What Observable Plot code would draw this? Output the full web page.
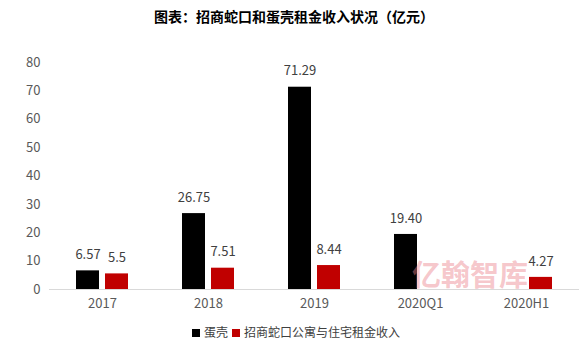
<!DOCTYPE html>
<html><head><meta charset="utf-8">
<script src="https://cdn.jsdelivr.net/npm/d3@7"></script>
<script src="https://cdn.jsdelivr.net/npm/@observablehq/plot@0.6"></script>
<style>
body{margin:0;background:#fff;font-family:"Noto Sans CJK SC","Noto Sans",sans-serif;}
#wrap{position:relative;width:588px;height:356px;overflow:hidden;}
#title{height:32px;line-height:32px;text-align:center;font-weight:bold;font-size:14px;color:#000;}
#legend{position:absolute;left:0;top:323px;width:588px;text-align:center;font-size:12px;color:#404040;line-height:18px;}
#legend span.sw{display:inline-block;width:8px;height:8px;margin:0 4px 0 4px;vertical-align:middle;position:relative;top:-1px;}
#wm{position:absolute;left:412px;top:259px;font-size:29px;line-height:29px;height:29px;font-weight:bold;color:rgba(235,130,140,0.45);pointer-events:none;white-space:nowrap;}
</style></head>
<body><div id="wrap">
<div id="title">图表：招商蛇口和蛋壳租金收入状况（亿元）</div>
<div id="chart"></div>
<div id="legend"></div>
<div id="wm">亿翰智库</div>
</div>
<script>
const categories = ["2017","2018","2019","2020Q1","2020H1"];
const seriesNames = ["蛋壳","招商蛇口公寓与住宅租金收入"];
const seriesColors = ["#000000","#c00000"];
const danke = [6.57, 26.75, 71.29, 19.40, null];
const dankeLabels = ["6.57","26.75","71.29","19.40",null];
const zhaoshang = [5.5, 7.51, 8.44, null, 4.27];
const zhaoshangLabels = ["5.5","7.51","8.44",null,"4.27"];
const yTicks = [0,10,20,30,40,50,60,70,80];

const rows = [];
categories.forEach((c,i)=>{
  if (danke[i] != null) rows.push({year:c, series:seriesNames[0], value:danke[i], label:dankeLabels[i]});
  if (zhaoshang[i] != null) rows.push({year:c, series:seriesNames[1], value:zhaoshang[i], label:zhaoshangLabels[i]});
});

const font = '"Noto Sans CJK SC","Noto Sans",sans-serif';
const chart = Plot.plot({
  width: 588, height: 290,
  marginLeft: 47, marginRight: 8, marginTop: 30, marginBottom: 33,
  style: {fontFamily: font, fontSize: "13px", color: "#595959", background: "#fff"},
  fx: {domain: categories, padding: 0, axis: "bottom", tickSize: 0, tickPadding: 9, label: null},
  x: {domain: seriesNames, paddingInner: 0.2, paddingOuter: 0.877, axis: null},
  y: {domain: [0,80], ticks: yTicks, tickSize: 0, tickPadding: 9, label: null},
  color: {domain: seriesNames, range: seriesColors},
  marks: [
    Plot.ruleY([0], {stroke: "#d9d9d9", strokeWidth: 1}),
    Plot.barY(rows, {fx: "year", x: "series", y: "value", fill: "series"}),
    Plot.text(rows, {fx: "year", x: "series", y: "value", text: "label", dy: -16, fill: "#404040", fontSize: 13})
  ]
});
document.getElementById("chart").appendChild(chart);

const lg = document.getElementById("legend");
seriesNames.forEach((s,i)=>{
  const sw = document.createElement("span"); sw.className="sw"; sw.style.background = seriesColors[i];
  lg.appendChild(sw);
  lg.appendChild(document.createTextNode(s));
});
</script>
</body></html>
